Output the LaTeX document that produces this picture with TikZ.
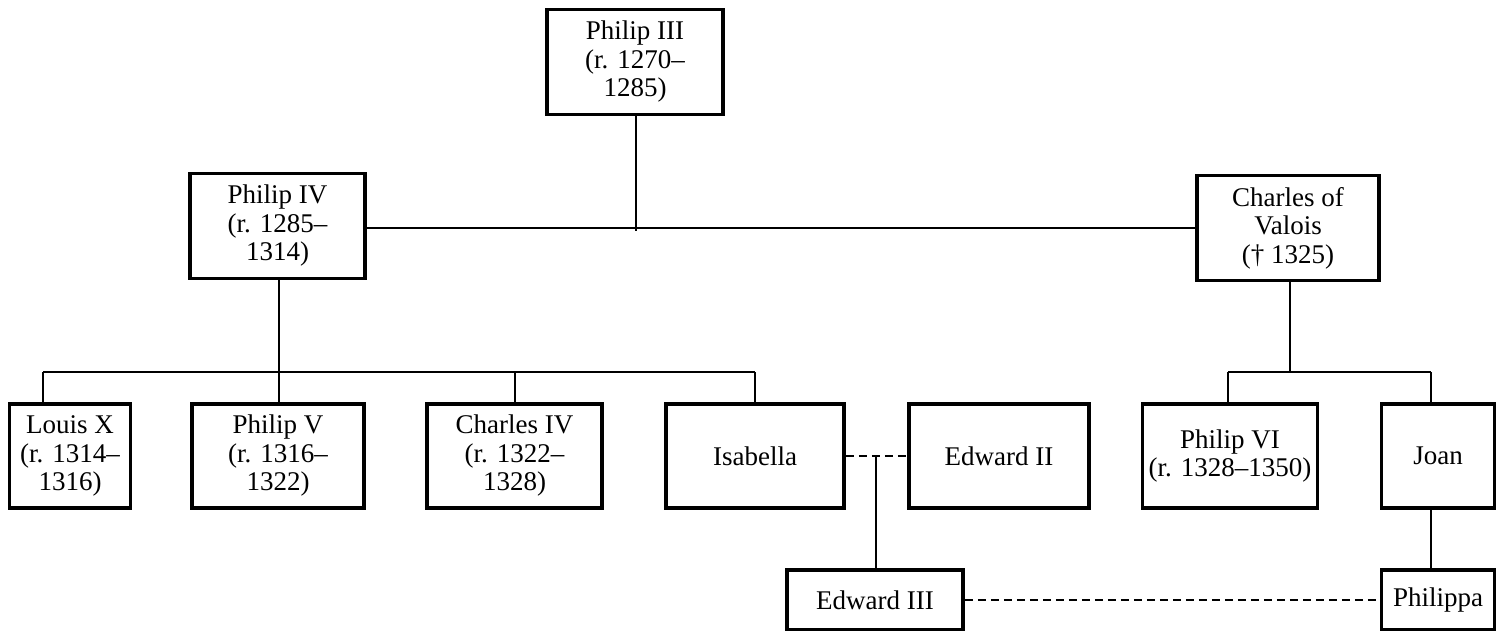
\documentclass[tikz,border=0pt]{standalone}
\usepackage{fontspec}
\setmainfont{Liberation Serif}
\begin{document}
\begin{tikzpicture}[x=1pt,y=-1pt,
  person/.style={draw=black, line width=3.5pt, fill=white, align=center, inner sep=0pt,
    font=\fontsize{27}{28.5}\selectfont},
  link/.style={draw=black, line width=2pt},
  marriage/.style={draw=black, line width=2pt, dash pattern=on 8pt off 5pt}]
\useasboundingbox (0,0) rectangle (1498,631);
% boxes
\node[person, minimum width=176pt, minimum height=105pt] (p3) at (635,62) {Philip III\\(r. 1270--\\1285)};
\node[person, minimum width=175pt, minimum height=105pt] (p4) at (277.5,226) {Philip IV\\(r. 1285--\\1314)};
\node[person, minimum width=182pt, minimum height=105pt] (cv) at (1288,228) {Charles of\\Valois\\(\textdagger{} 1325)};
\node[person, minimum width=121pt, minimum height=104pt] (lx) at (70,456) {Louis X\\(r. 1314--\\1316)};
\node[person, minimum width=172pt, minimum height=104pt] (p5) at (278,456) {Philip V\\(r. 1316--\\1322)};
\node[person, minimum width=175pt, minimum height=104pt] (c4) at (514.5,456) {Charles IV\\(r. 1322--\\1328)};
\node[person, minimum width=178pt, minimum height=104pt] (is) at (755,456) {Isabella};
\node[person, minimum width=180pt, minimum height=104pt] (e2) at (999,456) {Edward II};
\node[person, minimum width=175pt, minimum height=104pt] (p6) at (1230,456) {Philip VI\\(r. 1328--1350)};
\node[person, minimum width=113pt, minimum height=104pt] (jo) at (1438,456) {Joan};
\node[person, minimum width=176pt, minimum height=60pt] (e3) at (875,600) {Edward III};
\node[person, minimum width=113pt, minimum height=60pt] (ph) at (1438,600) {Philippa};
% coordinates
\coordinate (j1) at (636,231);
\coordinate (j2) at (279,372);
\coordinate (jl) at (43,372);
\coordinate (jr) at (755,372);
\coordinate (j3) at (1290,372);
\coordinate (jvl) at (1228,372);
\coordinate (jvr) at (1431,372);
\coordinate (m1) at (876,456);
% connectors
\draw[link] (p3.south -| j1) -- (j1);
\draw[link] (p4.east |- cv.west) -- (cv.west);
\draw[link] (p4.south -| j2) -- (j2);
\draw[link] (jl) -- (jr);
\draw[link] (jl) -- (lx.north -| jl);
\draw[link] (j2) -- (p5.north -| j2);
\draw[link] (c4.north |- jl) -- (c4.north);
\draw[link] (jr) -- (is.north -| jr);
\draw[link] (cv.south -| j3) -- (j3);
\draw[link] (jvl) -- (jvr);
\draw[link] (jvl) -- (p6.north -| jvl);
\draw[link] (jvr) -- (jo.north -| jvr);
\draw[marriage] (is.east) -- (e2.west);
\draw[link] (m1) -- (e3.north -| m1);
\draw[link] (jo.south -| jvr) -- (ph.north -| jvr);
\draw[marriage] (e3.east) -- (ph.west);
\end{tikzpicture}
\end{document}
